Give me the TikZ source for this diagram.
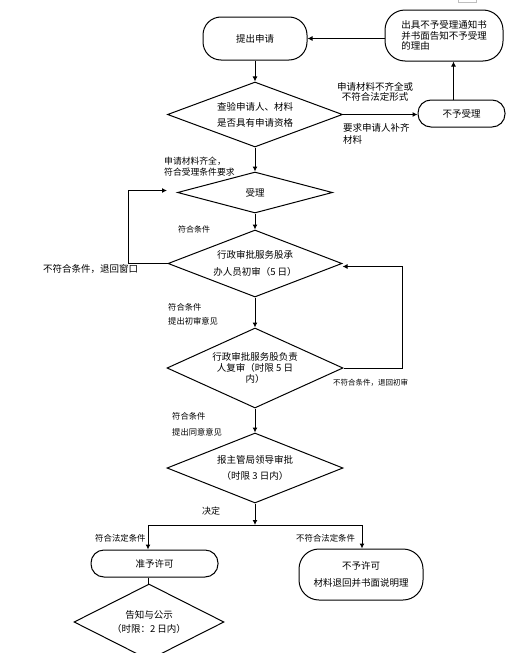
\documentclass[tikz,border=0pt]{standalone}
\usepackage{fontspec}
\setmainfont{Noto Sans CJK SC}
\usepackage{tikz}
\usetikzlibrary{
  positioning,
  arrows.meta,
  shapes.geometric,
  calc
}
\tikzset{
  % Rounded terminal box
  term/.style={
    draw,
    line width=1pt,
    rounded corners=13pt,
    inner sep=2pt,
    align=center,
    font=\fontsize{9.5}{11}\selectfont
  },
  % Decision diamond
  decision/.style={
    diamond,
    draw,
    aspect=2.2,
    line width=1pt,
    inner sep=0pt,
    align=center,
    font=\fontsize{9.5}{11}\selectfont
  },
  % Plain flow line
  flow/.style={
    draw,
    line width=1pt
  },
  % Flow line with arrow head
  dflow/.style={
    draw,
    line width=1pt,
    -{Latex[length=5pt,width=5pt]}
  },
  % Annotation next to a line
  note/.style={
    inner sep=0pt,
    anchor=west,
    align=left,
    font=\fontsize{9.5}{11}\selectfont
  }
}

\begin{document}
\begin{tikzpicture}[x=1pt, y=-1pt]
  \useasboundingbox (0,0) rectangle (528,653);
  \clip (0,0) rectangle (528,653);
  \draw[gray!50, line width=0.6pt] (458,-3) rectangle (476,2);

  % The steps
  \node[term, rounded corners=18pt, minimum width=104pt, minimum height=43pt] (apply) at (255,38.5) {提出申请};
  \node[term, rounded corners=20pt, minimum width=118pt, minimum height=51pt, align=left,
        font=\fontsize{9.5}{10.5}\selectfont] (notice) at (444,35.5)
        {出具不予受理通知书\\并书面告知不予受理\\的理由};
  \node[decision, minimum width=175pt, minimum height=65pt] (check) at (255,114.5)
        {查验申请人、材料\\[5pt]是否具有申请资格};
  \node[term, minimum width=87pt, minimum height=27pt] (reject) at (461.5,113.5) {不予受理};
  \node[decision, minimum width=155pt, minimum height=41pt] (accept) at (255,192.5) {受理};
  \node[decision, minimum width=174pt, minimum height=67pt] (review1) at (255,263.5)
        {行政审批服务股承\\[6pt]办人员初审（5 日）};
  \node[decision, minimum width=176pt, minimum height=80pt] (review2) at (255,368)
        {行政审批服务股负责\\人复审（时限 5 日\\内）};
  \node[decision, minimum width=176pt, minimum height=70pt] (approve) at (255,468)
        {报主管局领导审批\\[5pt]（时限 3 日内）};
  \node[term, minimum width=127pt, minimum height=27pt] (permit) at (154.5,563.5) {准予许可};
  \node[term, rounded corners=20pt, minimum width=124pt, minimum height=51pt] (refuse) at (361,574.5)
        {不予许可\\[6pt]材料退回并书面说明理};
  \node[decision, minimum width=150pt, minimum height=76pt] (publish) at (149,622)
        {告知与公示\\[3pt]（时限：2 日内）};

  % Split point after the decision
  \coordinate (split)  at (255,525);
  \coordinate (splitL) at (148,525);
  \coordinate (splitR) at (362,525);

  % Flow lines
  \draw[dflow] (apply) -- (check);
  \draw[dflow] (check.east) -- (check.east -| reject.west);
  \draw[dflow] ([xshift=-8pt]reject.north) -- ([xshift=-8pt]reject.north |- notice.south);
  \draw[dflow] (notice.west |- apply.east) -- (apply.east);
  \draw[dflow] (check) -- (accept);
  \draw[dflow] (accept) -- (review1);
  \draw[dflow] (review1.west) -- ++(-39,0) |- ([xshift=-10pt, yshift=2pt]accept.west);
  \draw[dflow] (review1) -- (review2);
  \draw[dflow] (review2.east) -- ++(59,0) |- ([yshift=-3pt]review1.east);
  \draw[dflow] (review2) -- (approve);
  \draw[dflow] (approve) -- (split);
  \draw[flow] (splitL) -- (splitR);
  \draw[dflow] (splitL) -- (splitL |- permit.north);
  \draw[dflow] (splitR) -- (splitR |- refuse.north);
  \draw[flow] (splitL |- permit.south) -- (splitL |- publish.north);

  % Line labels
  \node[note, anchor=center, align=center, font=\fontsize{9.5}{10.5}\selectfont] (lblIncomplete) at (375,92)
        {申请材料不齐全或\\不符合法定形式};
  \node[note, font=\fontsize{9.5}{12}\selectfont] (lblSupplement) at (343,134) {要求申请人补齐\\材料};
  \node[note, font=\fontsize{8.8}{11}\selectfont] (lblComplete) at (164,166.5) {申请材料齐全，\\符合受理条件要求};
  \node[note, font=\fontsize{8}{11}\selectfont] (lblOk1) at (178,229) {符合条件};
  \node[note] (lblBackWin) at (43,269) {不符合条件，退回窗口};
  \node[note, font=\fontsize{8.3}{14}\selectfont] (lblOk2) at (168,314) {符合条件\\提出初审意见};
  \node[note, font=\fontsize{7.5}{11}\selectfont] (lblBackRev) at (333,383) {不符合条件，退回初审};
  \node[note, font=\fontsize{8.3}{16}\selectfont] (lblOk3) at (172,424) {符合条件\\提出同意意见};
  \node[note, font=\fontsize{9}{11}\selectfont] (lblDecide) at (202,511) {决定};
  \node[note, font=\fontsize{8.4}{11}\selectfont] (lblLegal) at (95,538) {符合法定条件};
  \node[note, font=\fontsize{8.4}{11}\selectfont] (lblIllegal) at (296,538) {不符合法定条件};
\end{tikzpicture}
\end{document}
